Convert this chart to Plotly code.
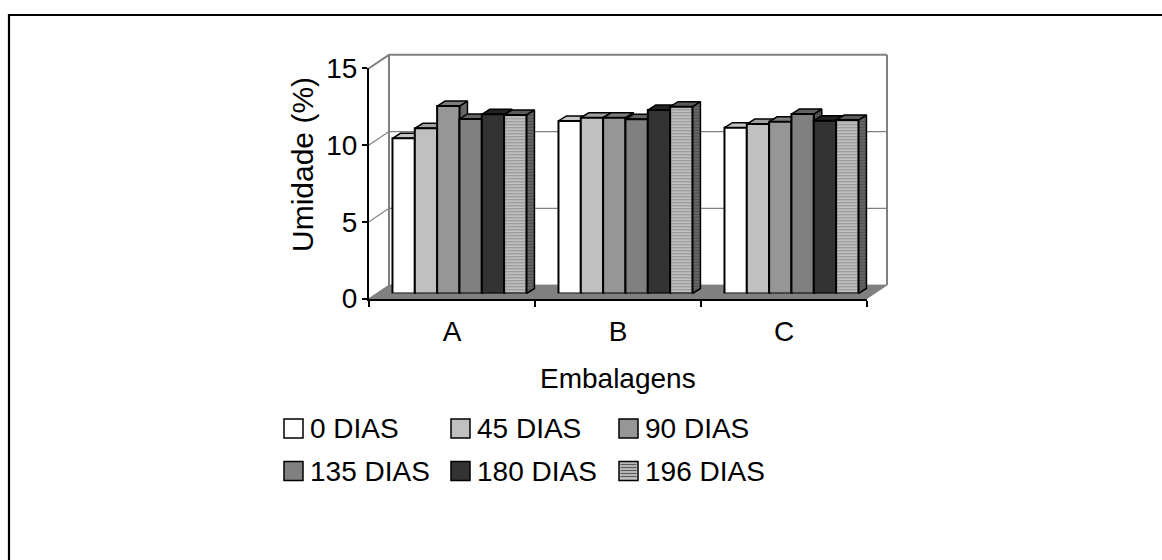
import plotly.graph_objects as go

W, H = 1162, 560

# ---- data -------------------------------------------------------------
CATEGORIES = ["A", "B", "C"]
SERIES = ["0 DIAS", "45 DIAS", "90 DIAS", "135 DIAS", "180 DIAS", "196 DIAS"]
DIAS_0 = [10.11, 11.24, 10.80]
DIAS_45 = [10.76, 11.45, 11.04]
DIAS_90 = [12.21, 11.45, 11.19]
DIAS_135 = [11.37, 11.35, 11.69]
DIAS_180 = [11.67, 11.95, 11.26]
DIAS_196 = [11.63, 12.17, 11.30]
VALUES = [DIAS_0, DIAS_45, DIAS_90, DIAS_135, DIAS_180, DIAS_196]
Y_TICKS = [0, 5, 10, 15]
X_TITLE = "Embalagens"
Y_TITLE = "Umidade (%)"

# ---- styles -----------------------------------------------------------
FONT = "Liberation Sans, Arial, sans-serif"
FS = 28
FRONT_COLORS = ["#ffffff", "#c0c0c0", "#969696", "#808080", "#333333", "#c0c0c0"]
TOP_COLORS = ["#c4c4c4", "#a0a0a0", "#7c7c7c", "#626262", "#222222", "#5a5a5a"]
SIDE_COLORS = ["#a8a8a8", "#8a8a8a", "#666666", "#505050", "#1a1a1a", "#6a6a6a"]
STRIPED = 5  # index of the hatched series
WALL_GRAY = "#808080"

# ---- 3-D box geometry (pixels) ----------------------------------------
ORIGIN_X, ORIGIN_Y = 369, 298.5     # front-plane position of (-0.5, 0)
PX_CAT = 166                        # pixels per category
PX_UNIT = 15.35                     # pixels per y unit
WALL_DX, WALL_DY = 20, 13.4         # depth of the box
BAR_FRAC = 0.373                    # depth of the bar front plane
BAR_DX, BAR_DY = 8, 5               # depth of each bar
BARGAP = 0.193
Y_MAX = Y_TICKS[-1]
N_CAT = len(CATEGORIES)
PAD = 4


def dom_x(p0, p1):
    return [p0 / W, p1 / W]


def dom_y(ptop, pbottom):
    return [1 - pbottom / H, 1 - ptop / H]


DX, DY = WALL_DX / PX_CAT, WALL_DY / PX_UNIT
BX, BY = BAR_FRAC * DX, BAR_FRAC * DY
DDX, DDY = BAR_DX / PX_CAT, BAR_DY / PX_UNIT
X0, X1 = -0.5, N_CAT - 0.5

fig = go.Figure()

# ---- scene subplot (x/y): floor, walls, bar tops and sides -----------
line_kw = dict(mode="lines", hoverinfo="skip", showlegend=False, xaxis="x", yaxis="y")

fig.add_trace(go.Scatter(x=[X0, X1, X1 + DX, X0 + DX, X0], y=[0, 0, DY, DY, 0],
                         fill="toself", fillcolor=WALL_GRAY,
                         line=dict(color=WALL_GRAY, width=1), **line_kw))
for v in Y_TICKS[1:]:
    fig.add_trace(go.Scatter(x=[X0, X0 + DX, X1 + DX], y=[v, v + DY, v + DY],
                             line=dict(color=WALL_GRAY, width=2 if v == Y_MAX else 1.2),
                             **line_kw))
for xe in (X0 + DX, X1 + DX):
    fig.add_trace(go.Scatter(x=[xe, xe], y=[DY, Y_MAX + DY],
                             line=dict(color=WALL_GRAY, width=2), **line_kw))

bw = (1 - BARGAP) / len(SERIES)
sides, tops = [], []
for g in range(N_CAT):
    for i, vals in enumerate(VALUES):
        v = vals[g]
        xl = g - (1 - BARGAP) / 2 + i * bw + BX
        xr = xl + bw
        top = v + BY
        sides.append((i, [xr, xr, xr + DDX, xr + DDX, xr],
                      [BY, top, top + DDY, BY + DDY, BY]))
        tops.append((v, i, [xl, xr, xr + DDX, xl + DDX, xl],
                     [top, top, top + DDY, top + DDY, top]))

for i, xs, ys in sides:
    extra = {}
    if i == STRIPED:
        extra["fillpattern"] = dict(shape="-", fgcolor="#2e2e2e", bgcolor="#6e6e6e",
                                    size=3, solidity=0.5)
    fig.add_trace(go.Scatter(x=xs, y=ys, fill="toself", fillcolor=SIDE_COLORS[i],
                             line=dict(color="black", width=1.5), **extra, **line_kw))
for v, i, xs, ys in sorted(tops, key=lambda t: t[0]):
    fig.add_trace(go.Scatter(x=xs, y=ys, fill="toself", fillcolor=TOP_COLORS[i],
                             line=dict(color="black", width=1.5), **line_kw))

# ---- bar subplot (x2/y2): front faces ---------------------------------
for i, (name, vals) in enumerate(zip(SERIES, VALUES)):
    marker = dict(color=FRONT_COLORS[i], line=dict(color="black", width=2))
    if i == STRIPED:
        marker["pattern"] = dict(shape="-", fgcolor="#5a5a5a", bgcolor="#c8c8c8",
                                 size=3, solidity=0.45)
    fig.add_trace(go.Bar(x=list(range(N_CAT)), y=vals, name=name, marker=marker,
                         xaxis="x2", yaxis="y2", showlegend=False, hoverinfo="skip"))

# ---- front axes subplot (x3/y3): carries the ticks and tick labels ----
fig.add_trace(go.Scatter(x=[X0, X1], y=[0, Y_MAX], mode="markers",
                         marker=dict(opacity=0, size=1), xaxis="x3", yaxis="y3",
                         hoverinfo="skip", showlegend=False))

hidden = dict(visible=False, fixedrange=True, automargin=False)
bar_left = ORIGIN_X + BAR_FRAC * WALL_DX
bar_bottom = ORIGIN_Y - BAR_FRAC * WALL_DY

fig.update_layout(
    width=W, height=H,
    margin=dict(l=0, r=0, t=0, b=0, autoexpand=False),
    paper_bgcolor="white", plot_bgcolor="rgba(0,0,0,0)",
    barmode="group", bargap=BARGAP, bargroupgap=0,
    font=dict(family=FONT, size=FS, color="black"),
    xaxis=dict(domain=dom_x(ORIGIN_X - PAD, ORIGIN_X + N_CAT * PX_CAT + WALL_DX + PAD),
               range=[X0 - PAD / PX_CAT, X1 + DX + PAD / PX_CAT], anchor="y", **hidden),
    yaxis=dict(domain=dom_y(ORIGIN_Y - Y_MAX * PX_UNIT - WALL_DY - PAD, ORIGIN_Y + PAD),
               range=[-PAD / PX_UNIT, Y_MAX + DY + PAD / PX_UNIT], anchor="x", **hidden),
    xaxis2=dict(domain=dom_x(bar_left, bar_left + N_CAT * PX_CAT),
                range=[X0, X1], anchor="y2", **hidden),
    yaxis2=dict(domain=dom_y(bar_bottom - Y_MAX * PX_UNIT, bar_bottom),
                range=[0, Y_MAX], anchor="x2", **hidden),
    xaxis3=dict(domain=dom_x(ORIGIN_X, ORIGIN_X + N_CAT * PX_CAT), range=[X0, X1],
                anchor="y3", showline=True, linecolor="black", linewidth=2,
                showgrid=False, zeroline=False, fixedrange=True, automargin=False,
                tickmode="array", tickvals=list(range(N_CAT)), ticktext=CATEGORIES,
                ticks="", ticklabelstandoff=7,
                minor=dict(tickmode="array", tickvals=[k - 0.5 for k in range(N_CAT + 1)],
                           ticks="outside", ticklen=6, tickwidth=1.5, tickcolor="black",
                           showgrid=False)),
    yaxis3=dict(domain=dom_y(ORIGIN_Y - Y_MAX * PX_UNIT, ORIGIN_Y), range=[0, Y_MAX],
                anchor="x3", showline=True, linecolor="black", linewidth=2,
                showgrid=False, zeroline=False, fixedrange=True, automargin=False,
                tickmode="array", tickvals=Y_TICKS, ticks="outside", ticklen=5,
                tickwidth=1.5, tickcolor="black", ticklabelstandoff=-1),
)

# ---- titles -----------------------------------------------------------
fig.add_annotation(text=Y_TITLE, x=302 / W, y=1 - 165 / H, xref="paper", yref="paper",
                   textangle=-90, showarrow=False, xanchor="center", yanchor="middle",
                   font=dict(size=30))
fig.add_annotation(text=X_TITLE, x=618 / W, y=1 - 378 / H, xref="paper", yref="paper",
                   showarrow=False, xanchor="center", yanchor="middle", font=dict(size=FS))

# ---- legend (3 columns x 2 rows) --------------------------------------
LEG_COLS = [284, 451, 619]
LEG_ROWS = [428.5, 471]
BOX = 19
for i, name in enumerate(SERIES):
    r, c = divmod(i, 3)
    bx0, by0 = LEG_COLS[c], LEG_ROWS[r] - BOX / 2
    fig.add_shape(type="rect", xref="paper", yref="paper",
                  x0=bx0 / W, x1=(bx0 + BOX) / W, y0=1 - (by0 + BOX) / H, y1=1 - by0 / H,
                  fillcolor=FRONT_COLORS[i], line=dict(color="black", width=1.5))
    if i == STRIPED:
        yy = by0 + 3
        while yy < by0 + BOX - 2:
            fig.add_shape(type="line", xref="paper", yref="paper",
                          x0=(bx0 + 1.5) / W, x1=(bx0 + BOX - 1.5) / W,
                          y0=1 - yy / H, y1=1 - yy / H,
                          line=dict(color="#5a5a5a", width=1.2))
            yy += 3
    fig.add_annotation(text=name, x=(bx0 + 24) / W, y=1 - LEG_ROWS[r] / H,
                       xref="paper", yref="paper", showarrow=False,
                       xanchor="left", yanchor="middle", font=dict(size=FS))

# ---- chart frame ------------------------------------------------------
fig.add_shape(type="rect", xref="paper", yref="paper", layer="above",
              x0=9 / W, x1=1.02, y0=-0.05, y1=1 - 15 / H,
              line=dict(color="black", width=2.2), fillcolor="rgba(0,0,0,0)")

fig.write_html("out.html")
